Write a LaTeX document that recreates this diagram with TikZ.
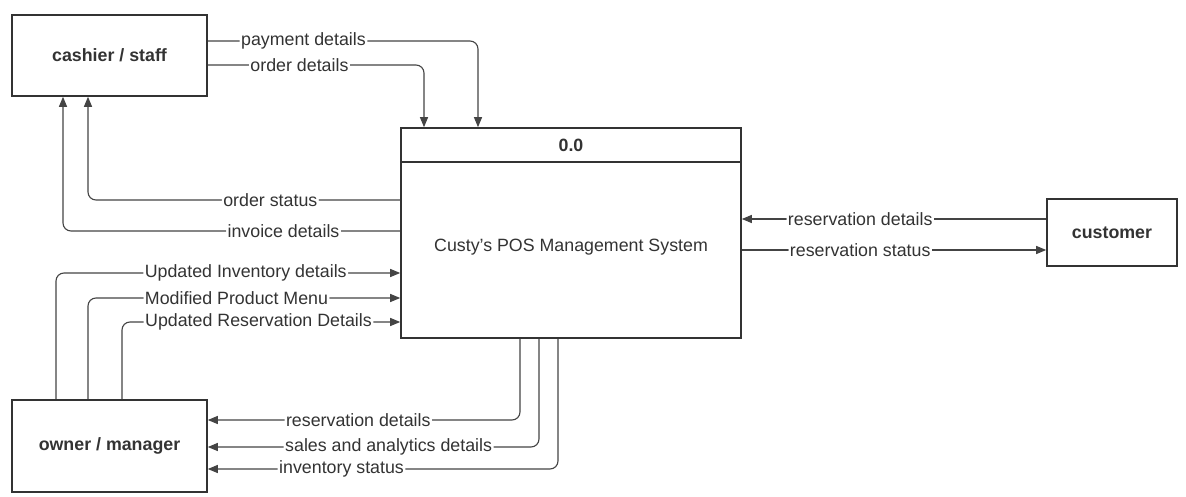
\documentclass[tikz,border=0pt]{standalone}
\usepackage{fontspec}
\setmainfont{Liberation Sans}
\usetikzlibrary{arrows.meta}
\definecolor{ink}{HTML}{333333}
\definecolor{wire}{HTML}{444444}
\begin{document}
\begin{tikzpicture}[x=1pt,y=-1pt,
  font=\fontsize{17.8}{20}\selectfont,
  entity/.style={draw=ink,line width=1.6pt,fill=white,inner sep=0pt,text=ink,font=\fontsize{17.8}{20}\selectfont\bfseries},
  flow/.style={draw=wire,line width=1.1pt,rounded corners=8pt,-{Triangle[length=10pt,width=8pt]}},
  lbl/.style={fill=white,inner sep=1.5pt,text=ink}]
\useasboundingbox (0,0) rectangle (1186,497);
% entities
\node[entity,minimum width=195pt,minimum height=81pt] (cashier) at (109.5,55.5) {cashier / staff};
\node[entity,minimum width=195pt,minimum height=92pt] (owner) at (109.5,446) {owner / manager};
\node[entity,minimum width=130pt,minimum height=67pt] (customer) at (1112,232.5) {customer};
% process
\node[draw=ink,line width=1.6pt,fill=white,minimum width=340pt,minimum height=210pt,inner sep=0pt] (main) at (571,233) {};
\draw[draw=ink,line width=1.6pt] (main.west |- 0,162) -- (main.east |- 0,162);
\node[text=ink,font=\fontsize{17.8}{20}\selectfont\bfseries] (pid) at (571,145) {0.0};
\node[text=ink] (pname) at (571,247) {Custy\symbol{39}s POS Management System};
% cashier flows
\draw[flow] (cashier.east |- 0,41) -| node[lbl,pos=0.177] {payment details} (main.north -| 478,0);
\draw[flow] (cashier.east |- 0,65) -| node[lbl,pos=0.212] {order details} (main.north -| 424,0);
\draw[flow] (main.west |- 0,200) -| node[lbl,pos=0.208] {order status} (cashier.south -| 88,0);
\draw[flow] (main.west |- 0,231) -| node[lbl,pos=0.173] {invoice details} (cashier.south -| 63,0);
% customer flows
\draw[flow] (customer.west |- 0,219) -- node[lbl,pos=0.611] {reservation details} (main.east |- 0,219);
\draw[flow] (main.east |- 0,250) -- node[lbl,pos=0.389] {reservation status} (customer.west |- 0,250);
% owner to process
\draw[flow] (owner.north -| 56,0) |- node[lbl,pos=0.626,anchor=west] {Updated Inventory details} (main.west |- 0,273);
\draw[flow] (owner.north -| 88,0) |- node[lbl,pos=0.588,anchor=west] {Modified Product Menu} (main.west |- 0,298);
\draw[flow] (owner.north -| 122,0) |- node[lbl,pos=0.538,anchor=west] {Updated Reservation Details} (main.west |- 0,322);
% process to owner
\draw[flow] (main.south -| 520,0) |- node[lbl,pos=0.759] {reservation details} (owner.east |- 0,420);
\draw[flow] (main.south -| 539,0) |- node[lbl,pos=0.727] {sales and analytics details} (owner.east |- 0,447);
\draw[flow] (main.south -| 558,0) |- node[lbl,pos=0.809] {inventory status} (owner.east |- 0,469);
\end{tikzpicture}
\end{document}
